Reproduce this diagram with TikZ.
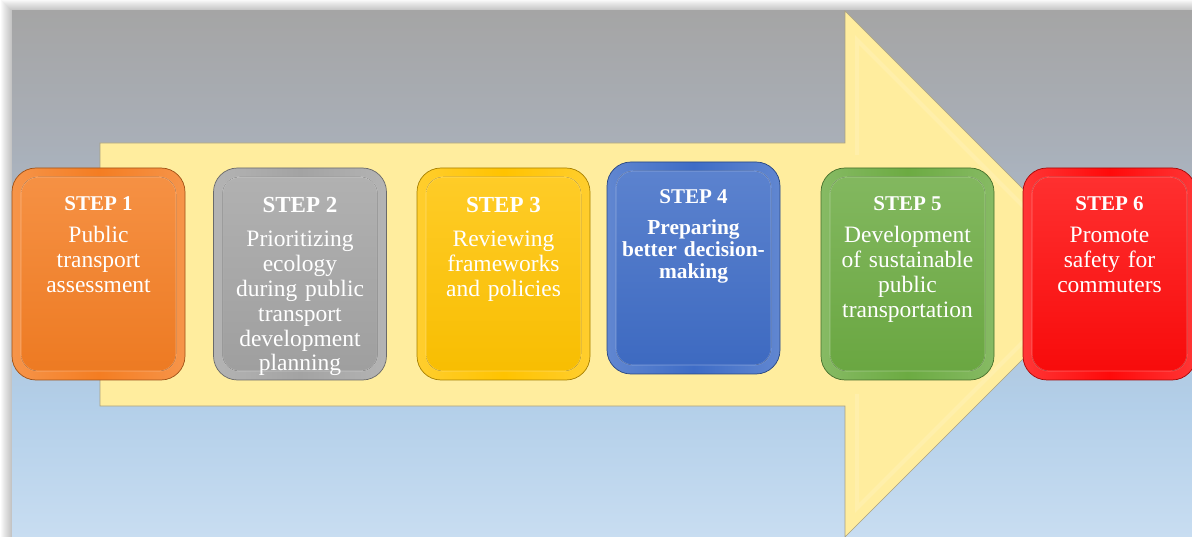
\documentclass[tikz,border=0pt]{standalone}
\usepackage{fontspec}
\setmainfont{Liberation Serif}
\definecolor{bgtop}{HTML}{A5A5A5}
\definecolor{bgupper}{HTML}{A9AFB8}
\definecolor{bgmid}{HTML}{ADC2D6}
\definecolor{bglow}{HTML}{B3CFE9}
\definecolor{bgbot}{HTML}{C8DDF1}
\definecolor{arrowfill}{HTML}{FFED9E}
\definecolor{arrowline}{HTML}{A8A080}
\definecolor{cOrange}{HTML}{F47D22}
\definecolor{cGray}{HTML}{A3A3A3}
\definecolor{cGold}{HTML}{FFC300}
\definecolor{cBlue}{HTML}{3E6CC6}
\definecolor{cGreen}{HTML}{6CAB42}
\definecolor{cRed}{HTML}{FF0A0A}
\pgfdeclareverticalshading{panelshade}{100bp}{%
  color(0bp)=(bgbot); color(25bp)=(bgbot); color(37.5bp)=(bglow);
  color(47.5bp)=(bgmid); color(62.5bp)=(bgupper); color(75bp)=(bgtop);
  color(100bp)=(bgtop)}
\tikzset{
  stepbox/.style={
    rounded corners=24pt, minimum width=173pt, minimum height=212pt,
    inner sep=0pt, draw=#1!65!black, line width=0.7pt,
    left color=#1!82!white, right color=#1!82!white, middle color=#1,
    path picture={
      \fill[rounded corners=17pt, top color=#1!84!white, bottom color=#1!97!black]
        ([shift={(9pt,-9pt)}]path picture bounding box.north west) rectangle
        ([shift={(-9pt,9pt)}]path picture bounding box.south east);
      \draw[rounded corners=17pt, white, opacity=0.18, line width=1.2pt]
        ([shift={(9pt,-9pt)}]path picture bounding box.north west) rectangle
        ([shift={(-9pt,9pt)}]path picture bounding box.south east);
    }},
  stephead/.style={text=white, anchor=base, font=\bfseries\fontsize{21}{24}\selectfont},
  bighead/.style={stephead, font=\bfseries\fontsize{23}{26}\selectfont},
  stepbody/.style={text=white, anchor=base, align=center, text width=170pt,
    inner sep=0pt, font=\fontsize{23.5}{24.8}\selectfont},
  boldbody/.style={stepbody, font=\bfseries\fontsize{21.4}{21.6}\selectfont},
}
\begin{document}
\begin{tikzpicture}[x=1pt, y=-1pt]
\useasboundingbox (0,0) rectangle (1192,537);
% soft shadow along the top and left of the panel
\foreach \i in {1,...,11}
  \fill[black, opacity=0.022] (12-\i,11-\i) rectangle (1200,545);
% background panel
\shade[shading=panelshade] (12,11) rectangle (1192,537);
% large process arrow
\draw[fill=arrowfill, draw=arrowline, line width=0.6pt]
  (100,143) -- (845,143) -- (845,11) -- (1108,274) -- (845,537)
  -- (845,406) -- (100,406) -- cycle;
\draw[white, opacity=0.14, line width=4pt, line join=miter]
  (857,155) -- (857,40) -- (1091,274) -- (857,508) -- (857,394);

% step boxes
\node[stepbox=cOrange] (s1) at (98.5,274) {};
\node[stepbox=cGray]   (s2) at (300,274) {};
\node[stepbox=cGold]   (s3) at (503.5,274) {};
\node[stepbox=cBlue]   (s4) at (693.5,268) {};
\node[stepbox=cGreen]  (s5) at (907.5,274) {};
\node[stepbox=cRed]    (s6) at (1109.5,274) {};

% headings
\node[stephead] (h1) at (98.5,211) {STEP 1};
\node[bighead]  (h2) at (300,213) {STEP 2};
\node[bighead]  (h3) at (503.5,213) {STEP 3};
\node[stephead] (h4) at (693.5,204) {STEP 4};
\node[stephead] (h5) at (907.5,211) {STEP 5};
\node[stephead] (h6) at (1109.5,211) {STEP 6};

% descriptions
\node[stepbody] (t1) at (98.5,243) {Public\\transport\\assessment};
\node[stepbody] (t2) at (300,247) {Prioritizing\\ecology\\during public\\transport\\development\\planning};
\node[stepbody] (t3) at (503.5,247) {Reviewing\\frameworks\\and policies};
\node[boldbody] (t4) at (693.5,235) {Preparing\\better decision-\\making};
\node[stepbody] (t5) at (907.5,243) {Development\\of sustainable\\public\\transportation};
\node[stepbody] (t6) at (1109.5,243) {Promote\\safety for\\commuters};
\end{tikzpicture}
\end{document}
